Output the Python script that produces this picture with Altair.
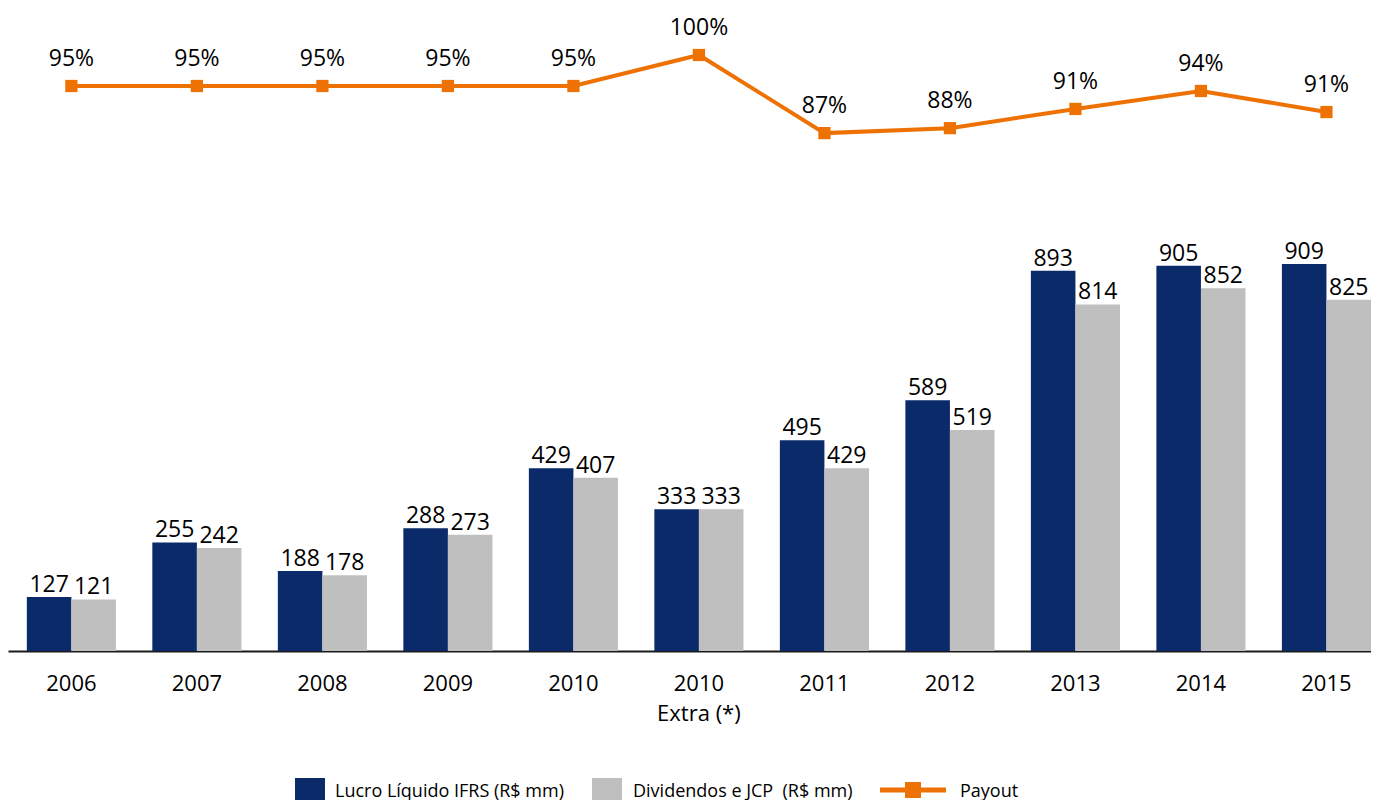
import altair as alt
import pandas as pd

FONT = "Open Sans"

categories = ["2006", "2007", "2008", "2009", "2010", "2010|Extra (*)",
              "2011", "2012", "2013", "2014", "2015"]
lucro = [127, 255, 188, 288, 429, 333, 495, 589, 893, 905, 909]
dividendos = [121, 242, 178, 273, 407, 333, 429, 519, 814, 852, 825]
payout = [95, 95, 95, 95, 95, 100, 87.4, 88.2, 91.3, 94.2, 90.8]

series_names = ["Lucro Líquido IFRS (R$ mm)", "Dividendos e JCP \u00a0(R$ mm)", "Payout"]
colors = ["#0A2A6A", "#BFBFBF", "#EE7203"]

bars_df = pd.DataFrame({
    "cat": categories * 2,
    "serie": [series_names[0]] * len(categories) + [series_names[1]] * len(categories),
    "valor": lucro + dividendos,
})
line_df = pd.DataFrame({"cat": categories, "payout": payout})

W, H = 1363, 643

x_enc = alt.X(
    "cat:N",
    sort=categories,
    scale=alt.Scale(paddingInner=0.29, paddingOuter=0.075, align=1),
    axis=alt.Axis(
        title=None, labelAngle=0, ticks=False,
        labelExpr="split(datum.label, '|')",
        labelFont=FONT, labelFontSize=22, labelColor="#000000",
        labelPadding=22, labelLineHeight=30,
        domainColor="#1a1a1a", domainWidth=2,
    ),
)
x_off = alt.XOffset("serie:N", sort=series_names[:2],
                    scale=alt.Scale(paddingInner=0, paddingOuter=0))
y_bar = alt.Y("valor:Q", scale=alt.Scale(domain=[0, 1510], nice=False, zero=True), axis=None)
y_line = alt.Y("payout:Q", scale=alt.Scale(domain=[3.87, 107.58], nice=False, zero=False), axis=None)

bars = alt.Chart(bars_df).mark_bar().encode(
    x=x_enc, xOffset=x_off, y=y_bar,
    fill=alt.Fill("serie:N", scale=alt.Scale(domain=series_names[:2], range=colors[:2]), legend=None),
)
bar_text = alt.Chart(bars_df).mark_text(
    font=FONT, fontSize=23, color="#000000", baseline="alphabetic", dy=-5
).encode(x=x_enc, xOffset=x_off, y=y_bar, text=alt.Text("valor:Q", format="d"))

line = alt.Chart(line_df).mark_line(color=colors[2], strokeWidth=4).encode(x=x_enc, y=y_line)
pts = alt.Chart(line_df).mark_square(color=colors[2], size=150, opacity=1).encode(x=x_enc, y=y_line)
line_text = alt.Chart(line_df).transform_calculate(
    lbl="format(datum.payout, '.0f') + '%'"
).mark_text(font=FONT, fontSize=23, color="#000000", baseline="alphabetic", dy=-20).encode(
    x=x_enc, y=y_line, text="lbl:N"
)

# legend (decoration)
def leg_df(i):
    return pd.DataFrame({"t": [series_names[i]]})

leg_y0, leg_y1 = 770, 792
leg_base = 789
leg1_box = alt.Chart(leg_df(0)).mark_rect(color=colors[0]).encode(
    x=alt.value(287), x2=alt.value(317), y=alt.value(leg_y0), y2=alt.value(leg_y1))
leg1_txt = alt.Chart(leg_df(0)).mark_text(font=FONT, fontSize=18, align="left", baseline="alphabetic", color="#000000").encode(
    x=alt.value(327), y=alt.value(leg_base), text="t:N")
leg2_box = alt.Chart(leg_df(1)).mark_rect(color=colors[1]).encode(
    x=alt.value(584), x2=alt.value(614), y=alt.value(leg_y0), y2=alt.value(leg_y1))
leg2_txt = alt.Chart(leg_df(1)).mark_text(font=FONT, fontSize=18, align="left", baseline="alphabetic", color="#000000").encode(
    x=alt.value(625), y=alt.value(leg_base), text="t:N")
leg3_line = alt.Chart(leg_df(2)).mark_rule(color=colors[2], strokeWidth=5).encode(
    x=alt.value(872), x2=alt.value(938), y=alt.value(782))
leg3_pt = alt.Chart(leg_df(2)).mark_square(color=colors[2], size=256, opacity=1).encode(
    x=alt.value(905), y=alt.value(782))
leg3_txt = alt.Chart(leg_df(2)).mark_text(font=FONT, fontSize=18, align="left", baseline="alphabetic", color="#000000").encode(
    x=alt.value(952), y=alt.value(leg_base), text="t:N")

bar_layer = alt.layer(bars, bar_text)
line_layer = alt.layer(line, pts, line_text)
legend_layer = alt.layer(leg1_box, leg1_txt, leg2_box, leg2_txt, leg3_line, leg3_pt, leg3_txt)

chart = alt.layer(bar_layer, line_layer, legend_layer).resolve_scale(
    y="independent"
).properties(width=W, height=H, padding=0).configure(
    font=FONT, view=alt.ViewConfig(stroke=None)
)

chart.save("out.html", embed_options={"renderer": "svg", "actions": False})
